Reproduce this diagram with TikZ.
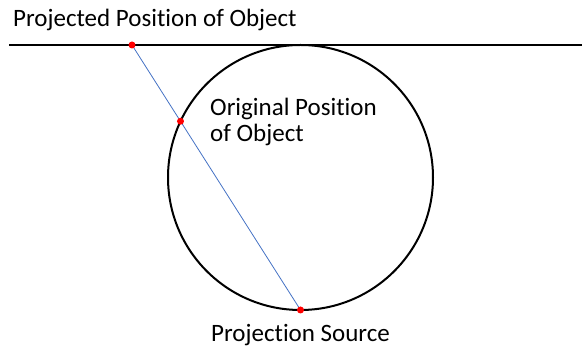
\documentclass[tikz,border=0pt]{standalone}
\usepackage{fontspec}
\setmainfont{Carlito}[Ligatures=NoCommon]
\usetikzlibrary{intersections}
\definecolor{raycol}{RGB}{68,114,196}

\begin{document}
\begin{tikzpicture}[x=1pt,y=-1pt,
    label/.style={inner sep=0pt, anchor=base west, font=\fontsize{25}{26}\selectfont, align=left},
    dot/.style={circle, fill=red, inner sep=0pt, minimum size=7pt},
    ray/.style={draw=raycol, line width=0.8pt}
  ]
    \useasboundingbox (0,0) rectangle (582,347);
    \coordinate (left) at (9,45);
    \coordinate (right) at (582,45);
    \draw[line width=2pt] (left) -- (right);
    \draw[line width=2pt, name path=circ] (300.5,177.5) circle[radius=132.5];

    \coordinate (proj) at (132,45);
    \coordinate (src) at (300.5,310);
    \path[name path=rayp] (proj) -- (src);
    \path[name intersections={of=rayp and circ, sort by=rayp, by={orig}}];
    \draw[ray] (proj) -- (src);

    \node[dot] (projdot) at (proj) {};
    \node[dot] (origdot) at (orig) {};
    \node[dot] (srcdot) at (src) {};

    % base of a two-line node is its last line
    \node[label] (projtext) at (13,27) {Projected Position of Object};
    \node[label] (origtext) at (210,142) {Original Position\\of Object};
    \node[label] (srctext) at (211,342) {Projection Source};
  \end{tikzpicture}
\end{document}
